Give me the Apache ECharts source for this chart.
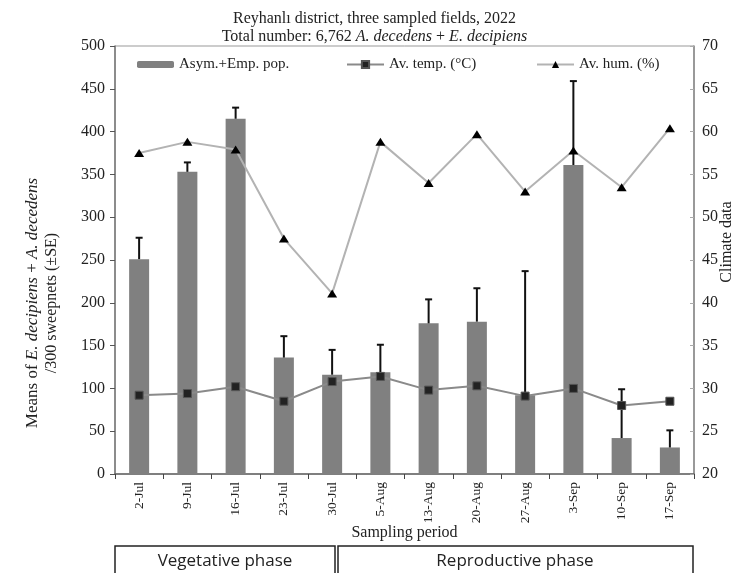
<!DOCTYPE html>
<html>
<head>
<meta charset="utf-8">
<script src="https://cdn.jsdelivr.net/npm/echarts@6/dist/echarts.min.js"></script>
<style>
html,body{margin:0;padding:0;background:#fff;}
#chart{width:749px;height:573px;}
</style>
</head>
<body>
<div id="chart"></div>
<script>
const categories = ['2-Jul','9-Jul','16-Jul','23-Jul','30-Jul','5-Aug','13-Aug','20-Aug','27-Aug','3-Sep','10-Sep','17-Sep'];
const popMeans = [251, 353, 415, 136, 116, 119, 176, 178, 92, 361, 42, 31];
const popSE = [25, 11, 13, 25, 29, 32, 28, 39, 145, 98, 57, 20];
const avTemp = [29.2, 29.4, 30.2, 28.5, 30.8, 31.4, 29.8, 30.3, 29.1, 30.0, 28.0, 28.5];
const avHum = [57.5, 58.8, 57.9, 47.5, 41.1, 58.8, 54.0, 59.7, 53.0, 57.8, 53.5, 60.4];
const leftTicks = {min: 0, max: 500, interval: 50};
const rightTicks = {min: 20, max: 70, interval: 5};
const seriesNames = ['Asym.+Emp. pop.', 'Av. temp. (°C)', 'Av. hum. (%)'];

const serif = '"Liberation Serif", "Times New Roman", serif';
const sans = '"Open Sans", "Noto Sans", sans-serif';
const chart = echarts.init(document.getElementById('chart'), null, {renderer: 'canvas'});

const errData = popMeans.map((m, i) => [i, m, m + popSE[i]]);

const legendLefts = [132, 341, 531];
const legends = seriesNames.map((nm, k) => ({
  top: 52,
  left: legendLefts[k],
  itemWidth: 37,
  itemHeight: k === 0 ? 7 : 9,
  itemGap: 5,
  textStyle: {fontFamily: serif, fontSize: 15, color: '#222'},
  data: [nm]
}));

const option = {
  animation: false,
  backgroundColor: '#fff',
  title: {
    left: 'center',
    top: 5,
    text: '{n|Reyhanlı district, three sampled fields, 2022}\n{n|Total number: 6,762 }{i|A. decedens}{n| + }{i|E. decipiens}',
    textStyle: {
      fontWeight: 'normal',
      rich: {
        n: {fontFamily: serif, fontSize: 16, fontWeight: 'normal', color: '#222', lineHeight: 18},
        i: {fontFamily: serif, fontSize: 16, fontWeight: 'normal', color: '#222', fontStyle: 'italic', lineHeight: 18}
      }
    }
  },
  grid: {left: 115, right: 55, top: 46, bottom: 99, show: true, borderColor: '#999', borderWidth: 1},
  legend: legends,
  xAxis: {
    type: 'category',
    data: categories,
    name: 'Sampling period',
    nameLocation: 'middle',
    nameGap: 51,
    nameMoveOverlap: false,
    nameTextStyle: {fontFamily: serif, fontSize: 16, color: '#222'},
    axisLine: {lineStyle: {color: '#666', width: 1.5}},
    axisTick: {show: true, length: 5, lineStyle: {color: '#444'}},
    axisLabel: {rotate: 90, fontFamily: serif, fontSize: 13.5, color: '#222', margin: 8}
  },
  yAxis: [
    {
      type: 'value',
      min: leftTicks.min, max: leftTicks.max, interval: leftTicks.interval,
      splitLine: {show: false},
      axisLine: {show: true, lineStyle: {color: '#777', width: 1.5}},
      axisTick: {show: true, length: 5, lineStyle: {color: '#555'}},
      axisLabel: {fontFamily: serif, fontSize: 16, color: '#222', margin: 10}
    },
    {
      type: 'value',
      position: 'right',
      min: rightTicks.min, max: rightTicks.max, interval: rightTicks.interval,
      splitLine: {show: false},
      axisLine: {show: true, lineStyle: {color: '#888', width: 1.5}},
      axisTick: {show: true, inside: true, length: 4, lineStyle: {color: '#aaa'}},
      axisLabel: {fontFamily: serif, fontSize: 16, color: '#222', margin: 8}
    }
  ],
  series: [
    {
      name: seriesNames[0],
      type: 'bar',
      yAxisIndex: 0,
      data: popMeans,
      barWidth: 20,
      itemStyle: {color: '#808080'},
      z: 2
    },
    {
      name: 'err',
      type: 'custom',
      yAxisIndex: 0,
      data: errData,
      z: 3,
      renderItem: function (params, api) {
        const x = api.value(0);
        const lo = api.coord([x, api.value(1)]);
        const hi = api.coord([x, api.value(2)]);
        const cap = 3.5;
        return {
          type: 'group',
          children: [
            {type: 'line', shape: {x1: lo[0], y1: lo[1], x2: hi[0], y2: hi[1]}, style: {stroke: '#111', lineWidth: 2}},
            {type: 'line', shape: {x1: hi[0] - cap, y1: hi[1], x2: hi[0] + cap, y2: hi[1]}, style: {stroke: '#111', lineWidth: 2}}
          ]
        };
      }
    },
    {
      name: seriesNames[1],
      type: 'line',
      yAxisIndex: 1,
      data: avTemp,
      symbol: 'rect',
      symbolSize: 8,
      lineStyle: {color: '#8a8a8a', width: 2},
      itemStyle: {color: '#222', borderColor: '#555', borderWidth: 1},
      z: 4
    },
    {
      name: seriesNames[2],
      type: 'line',
      yAxisIndex: 1,
      data: avHum,
      symbol: 'triangle',
      symbolSize: [10, 8],
      lineStyle: {color: '#b3b3b3', width: 2},
      itemStyle: {color: '#000', borderWidth: 0},
      z: 4
    }
  ],
  graphic: [
    {
      type: 'text', x: 42, y: 303, rotation: Math.PI / 2,
      style: {
        text: '{a|Means of }{ai|E. decipiens}{a| + }{ai|A. decedens}\n{b|/300 sweepnets (±SE)}',
        align: 'center', verticalAlign: 'middle',
        rich: {
          a: {fontFamily: serif, fontSize: 17, fill: '#222', lineHeight: 19, align: 'center'},
          ai: {fontFamily: serif, fontSize: 17, fill: '#222', fontStyle: 'italic', lineHeight: 19, align: 'center'},
          b: {fontFamily: serif, fontSize: 16, fill: '#222', lineHeight: 19, align: 'center'}
        }
      }
    },
    {
      type: 'text', x: 727, y: 242, rotation: Math.PI / 2,
      style: {text: 'Climate data', fontFamily: serif, fontSize: 16, fill: '#222', align: 'center', verticalAlign: 'middle'}
    },
    {type: 'rect', shape: {x: 115, y: 546, width: 220, height: 40}, style: {fill: 'none', stroke: '#222', lineWidth: 1.5}},
    {type: 'rect', shape: {x: 338, y: 546, width: 355, height: 40}, style: {fill: 'none', stroke: '#222', lineWidth: 1.5}},
    {type: 'text', x: 225, y: 561, style: {text: 'Vegetative phase', fontFamily: sans, fontSize: 17, fill: '#222', align: 'center', verticalAlign: 'middle'}},
    {type: 'text', x: 515, y: 561, style: {text: 'Reproductive phase', fontFamily: sans, fontSize: 17, fill: '#222', align: 'center', verticalAlign: 'middle'}}
  ]
};
chart.setOption(option);
</script>
</body>
</html>
